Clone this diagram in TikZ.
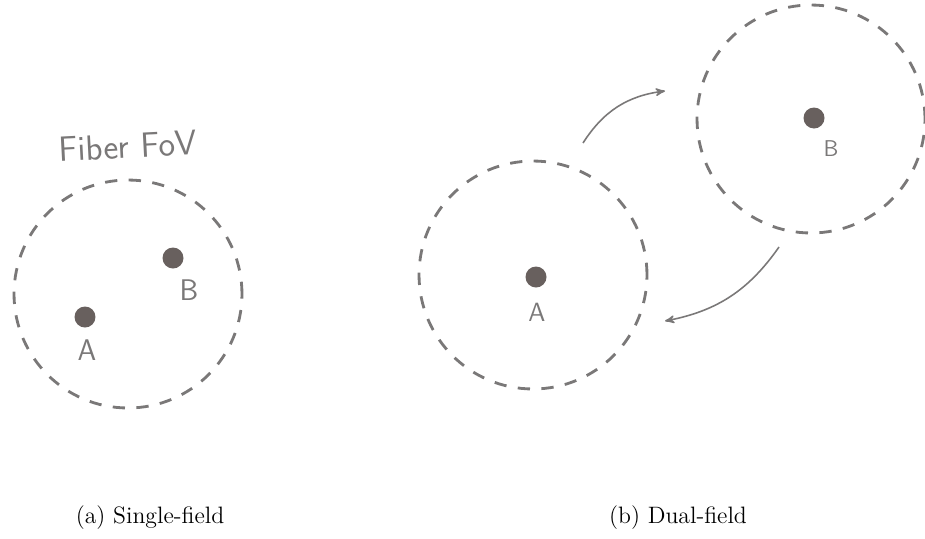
\documentclass[tikz,border=0pt]{standalone}
\usepackage{tikz}
\usetikzlibrary{arrows, positioning}
\usepackage{xcolor}

\definecolor{pencil}{RGB}{122,120,120}
\definecolor{spotgray}{RGB}{104,96,94}

\begin{document}
\begin{tikzpicture}[x=0.02cm, y=-0.02cm,
    fov/.style={circle, draw=pencil, line width=1.6pt, dash pattern=on 7pt off 6.5pt, minimum size=4.56cm, inner sep=0pt},
    spot/.style={circle, fill=spotgray, minimum size=0.42cm, inner sep=0pt},
    hand/.style={text=pencil, font=\sffamily\fontsize{17}{20}\selectfont},
    move/.style={->, >=stealth', draw=pencil, line width=0.9pt},
    caption/.style={font=\fontsize{13.5}{16}\selectfont}]
    \useasboundingbox (0,0) rectangle (925,538);

    % (a) single field
    \node[hand, font=\sffamily\fontsize{20}{24}\selectfont, rotate=3] (fovtxt) at (128,146) {Fiber FoV};
    \node[fov] (fovS) at (128,294) {};
    \node[spot] (sA) at (85,317) {};
    \node[spot] (sB) at (173,258) {};
    \node[hand] (lA) at (87,350) {A};
    \node[hand] (lB) at (189,290) {B};

    % (b) dual field
    \node[fov] (fovA) at (533,275) {};
    \node[fov] (fovB) at (811,119) {};
    \node[spot] (dA) at (536,277) {};
    \node[spot] (dB) at (814,118) {};
    \node[hand, font=\sffamily\fontsize{15}{18}\selectfont] (mA) at (537,312) {A};
    \node[hand, font=\sffamily\fontsize{13}{16}\selectfont] (mB) at (831,149) {B};

    \coordinate (goS) at (583,143);
    \coordinate (goE) at (665,91);
    \coordinate (backS) at (779,247);
    \coordinate (backE) at (665,321);
    \draw[move] (goS) to[bend left=25] (goE);
    \draw[move] (backS) to[bend left=22] (backE);

    \node[caption] (capA) at (150,518) {(a) Single-field};
    \node[caption] (capB) at (678,518) {(b) Dual-field};
\end{tikzpicture}
\end{document}
